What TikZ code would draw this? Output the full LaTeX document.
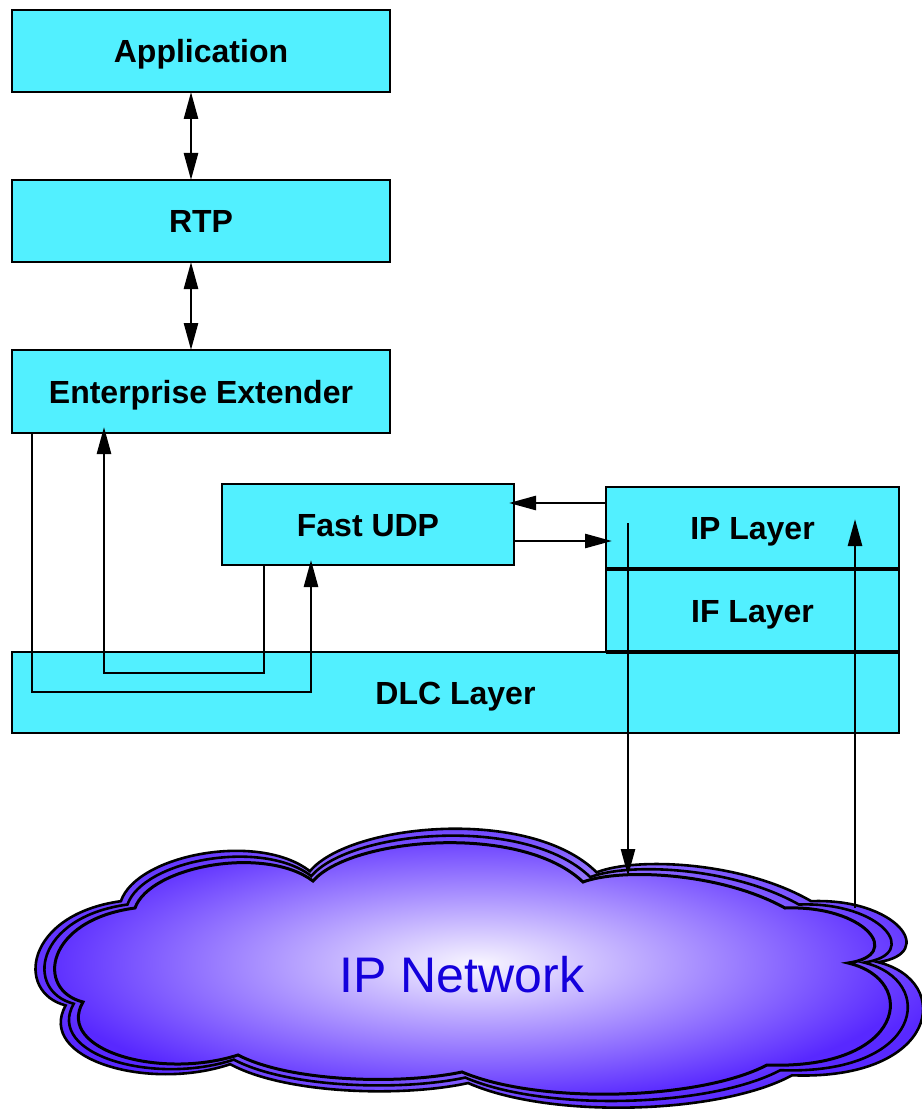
\documentclass[tikz,border=0pt]{standalone}
\usepackage{fontspec}
\setmainfont{Liberation Sans}
\usetikzlibrary{arrows.meta,calc}
\definecolor{boxcyan}{RGB}{82,240,255}
\definecolor{cloudin}{RGB}{248,246,255}
\definecolor{cloudout}{RGB}{88,40,255}
\definecolor{nettext}{RGB}{20,0,220}
\newcommand{\myCloudShape}{(135,908) .. controls (150,866) and (265,845) .. (313,881) .. controls (350,838) and (520,822) .. (583,882) .. controls (620,868) and (720,872) .. (785,908) .. controls (865,905) and (905,955) .. (848,963) .. controls (920,980) and (905,1070) .. (767,1065) .. controls (700,1100) and (540,1105) .. (462,1072) .. controls (400,1085) and (290,1082) .. (238,1055) .. controls (160,1080) and (55,1050) .. (83,1002) .. controls (35,990) and (45,920) .. (135,908) -- cycle}
\begin{document}
\begin{tikzpicture}[x=1pt,y=-1pt,
  box/.style={draw=black, line width=2.6pt, fill=boxcyan, rectangle, inner sep=0pt, outer sep=0pt, anchor=north west, font=\fontsize{32}{38}\selectfont\bfseries, text height=23pt, text depth=0pt},
  arr/.style={line width=2.6pt, -{Triangle[length=27pt,width=14pt]}},
  darr/.style={line width=2.6pt, {Triangle[length=27pt,width=14pt]}-{Triangle[length=27pt,width=14pt]}},
  cloudline/.style={draw=black, line width=3pt, inner color=cloudin, outer color=cloudout}]
\useasboundingbox (0,0) rectangle (921,1115);

% boxes
\node[box, minimum width=378pt, minimum height=82pt] (app) at (12,10) {Application};
\node[box, minimum width=378pt, minimum height=82pt] (rtp) at (12,180) {RTP};
\node[box, minimum width=378pt, minimum height=83pt] (ee) at (12,350) {Enterprise Extender};
\node[box, minimum width=292pt, minimum height=81pt] (fudp) at (222,484) {Fast UDP};
\node[box, minimum width=293pt, minimum height=82pt] (ipl) at (606,487) {IP Layer};
\node[box, minimum width=293pt, minimum height=83pt] (ifl) at (606,569) {IF Layer};
\node[box, minimum width=887pt, minimum height=81pt] (dlc) at (12,652) {DLC Layer};
\draw[line width=3.6pt] (ifl.north west) -- (ifl.north east);
\draw[line width=3.6pt] (ifl.south west) -- (ifl.south east);

% cloud
\begin{scope}[shift={(-22.5,-105.8)}, xscale=1.062, yscale=1.109]
  \path[cloudline, line width=2.6pt] \myCloudShape;
\end{scope}
\begin{scope}[shift={(-12,-53.4)}, xscale=1.033, yscale=1.055]
  \path[cloudline, line width=2.6pt] \myCloudShape;
\end{scope}
\path[cloudline] \myCloudShape;
\node[font=\fontsize{50}{60}\selectfont, text=nettext] (net) at (462,975) {IP Network};

% connectors
\coordinate (a1) at (311,692);
\coordinate (b1) at (104,673);
\coordinate (e2) at (628,876);
\coordinate (f1) at (855,908);
\draw[darr] ([xshift=179pt]app.south west) -- ([xshift=179pt]rtp.north west);
\draw[darr] ([xshift=179pt]rtp.south west) -- ([xshift=179pt]ee.north west);
\draw[arr] ([xshift=20pt]ee.south west) |- (a1) -- ([xshift=89pt,yshift=5pt]fudp.south west);
\draw[arr] ([xshift=42pt]fudp.south west) |- (b1) -- ([xshift=92pt,yshift=6pt]ee.south west);
\draw[arr] ([yshift=-16pt]ipl.north west) -- ([xshift=-5pt,yshift=-19pt]fudp.north east);
\draw[arr] ([yshift=-57pt]fudp.north east) -- ([xshift=6pt,yshift=-54pt]ipl.north west);
\draw[arr] ([xshift=22pt,yshift=-36pt]ipl.north west) -- (e2);
\draw[arr] (f1) -- ([xshift=249pt,yshift=-32pt]ipl.north west);
\end{tikzpicture}
\end{document}
